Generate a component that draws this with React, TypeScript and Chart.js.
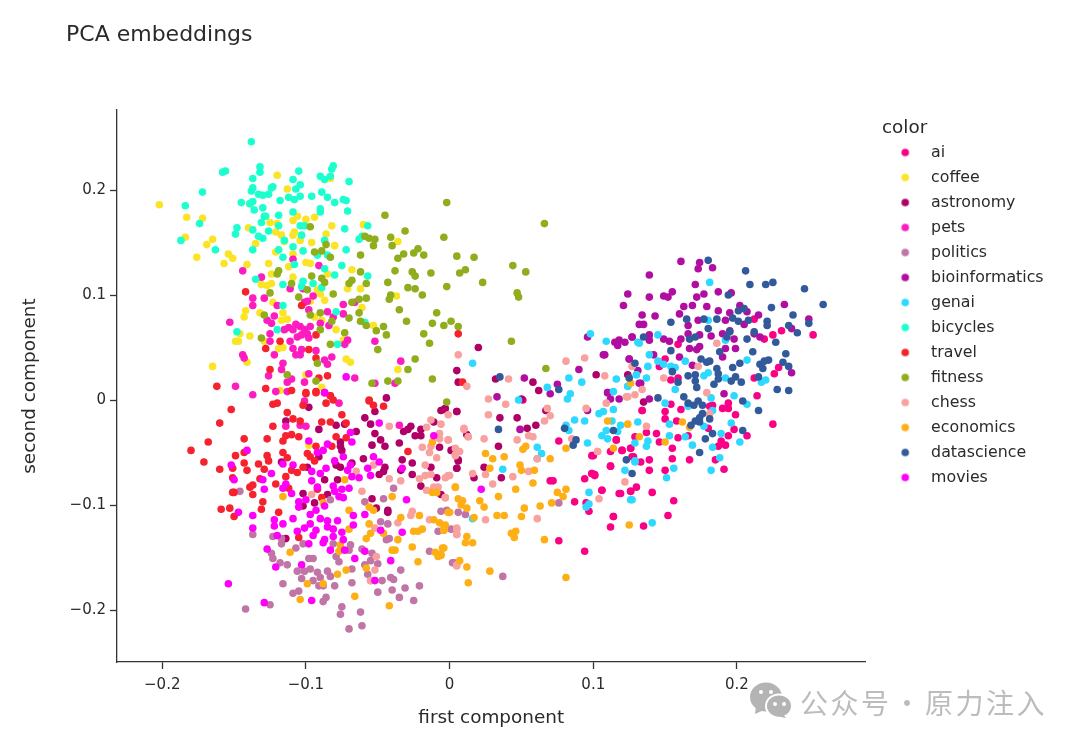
import { useEffect, useRef } from 'react';
import { Chart, registerables } from 'chart.js';

Chart.register(...registerables);

type Pt = [number, number];

const ai: Pt[] = [[0.253,0.062],[0.225,0.062],[0.219,0.058],[0.231,0.066],[0.212,0.077],[0.159,0.053],[0.150,0.039],[0.146,0.032],[0.226,0.025],[0.229,0.031],[0.212,0.021],[0.214,0.004],[0.225,-0.023],[0.199,-0.014],[0.194,-0.003],[0.190,-0.008],[0.194,-0.008],[0.134,-0.010],[0.150,-0.011],[0.154,-0.004],[0.161,-0.009],[0.150,-0.018],[0.158,-0.020],[0.144,-0.032],[0.137,-0.031],[0.129,-0.035],[0.116,-0.038],[0.146,-0.040],[0.159,-0.036],[0.166,-0.034],[0.180,-0.027],[0.198,-0.028],[0.194,-0.034],[0.207,-0.034],[0.189,-0.039],[0.187,-0.044],[0.192,-0.043],[0.155,-0.046],[0.126,-0.046],[0.120,-0.048],[0.112,-0.049],[0.100,-0.053],[0.139,-0.057],[0.133,-0.059],[0.127,-0.054],[0.155,-0.056],[0.167,-0.057],[0.185,-0.057],[0.191,-0.066],[0.112,-0.063],[0.139,-0.067],[0.150,-0.067],[0.099,-0.070],[0.101,-0.072],[0.106,-0.086],[0.130,-0.083],[0.126,-0.087],[0.118,-0.089],[0.141,-0.088],[0.156,-0.096],[0.114,-0.111],[0.152,-0.110],[0.112,-0.121],[0.135,-0.120],[0.181,-0.006],[0.183,-0.005],[0.159,0.021],[0.154,0.019],[0.076,-0.039],[0.099,-0.053],[0.120,-0.048],[0.126,-0.046],[0.112,-0.063],[0.094,-0.075],[0.099,-0.070],[0.101,-0.071],[0.070,-0.077],[0.072,-0.077],[0.106,-0.086],[0.119,-0.089],[0.087,-0.097],[0.097,-0.106],[0.114,-0.111],[0.076,-0.134],[0.094,-0.144],[0.128,-0.054],[0.126,-0.087],[0.095,-0.098],[0.116,-0.038],[0.051,0.000],[0.134,-0.010]];
const coffee: Pt[] = [[-0.202,0.186],[-0.183,0.174],[-0.172,0.173],[-0.184,0.155],[-0.165,0.153],[-0.169,0.148],[-0.176,0.136],[-0.154,0.139],[-0.151,0.135],[-0.157,0.130],[-0.141,0.129],[-0.120,0.214],[-0.113,0.201],[-0.083,0.211],[-0.139,0.187],[-0.125,0.169],[-0.120,0.168],[-0.109,0.171],[-0.106,0.175],[-0.100,0.172],[-0.094,0.174],[-0.082,0.166],[-0.060,0.167],[-0.140,0.164],[-0.121,0.160],[-0.117,0.157],[-0.108,0.160],[-0.109,0.157],[-0.086,0.158],[-0.115,0.151],[-0.104,0.152],[-0.096,0.150],[-0.080,0.147],[-0.135,0.149],[-0.036,0.151],[-0.121,0.141],[-0.109,0.139],[-0.126,0.130],[-0.112,0.127],[-0.100,0.131],[-0.097,0.130],[-0.068,0.124],[-0.124,0.120],[-0.109,0.117],[-0.085,0.120],[-0.131,0.110],[-0.127,0.109],[-0.124,0.111],[-0.071,0.106],[-0.062,0.106],[-0.092,0.105],[-0.090,0.101],[-0.037,0.099],[-0.123,0.093],[-0.087,0.095],[-0.097,0.094],[-0.061,0.088],[-0.142,0.085],[-0.143,0.079],[-0.132,0.083],[-0.116,0.083],[-0.117,0.076],[-0.113,0.077],[-0.094,0.079],[-0.089,0.076],[-0.146,0.063],[-0.139,0.061],[-0.149,0.056],[-0.147,0.056],[-0.079,0.067],[-0.053,0.071],[-0.129,0.056],[-0.119,0.049],[-0.116,0.050],[-0.074,0.057],[-0.165,0.032],[-0.141,0.036],[-0.072,0.039],[-0.069,0.036],[-0.036,0.029],[-0.100,0.024],[-0.089,0.012],[-0.118,0.009],[-0.098,-0.043]];
const astronomy: Pt[] = [[-0.044,0.002],[-0.052,-0.011],[-0.059,-0.017],[-0.055,-0.023],[-0.052,-0.032],[-0.048,-0.038],[-0.045,-0.044],[-0.054,-0.043],[-0.035,-0.041],[-0.060,-0.056],[-0.033,-0.057],[-0.026,-0.060],[-0.045,-0.064],[-0.046,-0.068],[-0.049,-0.071],[-0.034,-0.067],[-0.026,-0.071],[-0.020,-0.082],[-0.013,-0.064],[-0.007,-0.045],[0.005,-0.065],[0.006,-0.057],[0.001,-0.048],[0.005,-0.011],[-0.006,-0.010],[-0.003,-0.008],[-0.011,-0.021],[-0.027,-0.025],[-0.029,-0.028],[-0.032,-0.030],[-0.020,-0.028],[-0.024,-0.034],[-0.020,-0.034],[-0.098,-0.007],[-0.114,-0.020],[-0.079,-0.024],[-0.091,-0.028],[-0.073,-0.023],[-0.065,-0.030],[-0.076,-0.040],[-0.076,-0.044],[-0.075,-0.048],[-0.091,-0.054],[-0.117,-0.059],[-0.099,-0.064],[-0.079,-0.062],[-0.076,-0.064],[-0.068,-0.060],[-0.087,-0.076],[-0.078,-0.076],[-0.102,-0.089],[-0.085,-0.090],[-0.094,-0.098],[-0.102,-0.101],[-0.054,-0.094],[-0.051,-0.103],[-0.043,-0.105],[-0.043,-0.107],[-0.114,-0.132],[-0.009,-0.074],[-0.006,-0.090],[0.020,0.050],[0.005,0.028],[0.006,0.017],[0.032,0.020],[0.058,0.017],[0.062,0.009],[0.050,0.001],[-0.004,-0.009],[0.005,-0.011],[0.035,-0.017],[0.047,-0.017],[0.060,-0.024],[0.054,-0.027],[0.067,-0.010],[0.102,0.024],[0.006,-0.058],[0.005,-0.065],[0.034,-0.044],[0.024,-0.064],[0.036,-0.074],[0.017,-0.074],[0.003,-0.047],[0.012,-0.033],[0.124,0.024],[0.135,-0.002]];
const pets: Pt[] = [[-0.109,0.134],[-0.144,0.123],[-0.131,0.117],[-0.091,0.128],[-0.102,0.106],[-0.111,0.106],[-0.095,0.099],[-0.137,0.097],[-0.129,0.097],[-0.137,0.090],[-0.120,0.090],[-0.101,0.093],[-0.099,0.094],[-0.098,0.086],[-0.074,0.091],[-0.066,0.093],[-0.085,0.084],[-0.074,0.082],[-0.122,0.080],[-0.127,0.076],[-0.124,0.073],[-0.153,0.074],[-0.090,0.073],[-0.084,0.071],[-0.081,0.079],[-0.115,0.067],[-0.112,0.069],[-0.107,0.072],[-0.104,0.070],[-0.097,0.070],[-0.101,0.067],[-0.109,0.067],[-0.106,0.060],[-0.103,0.062],[-0.099,0.063],[-0.098,0.059],[-0.125,0.063],[-0.125,0.056],[-0.111,0.056],[-0.071,0.057],[-0.073,0.053],[-0.052,0.056],[-0.109,0.049],[-0.103,0.048],[-0.093,0.047],[-0.107,0.043],[-0.104,0.043],[-0.144,0.043],[-0.143,0.040],[-0.122,0.043],[-0.082,0.041],[-0.087,0.038],[-0.085,0.034],[-0.034,0.037],[-0.116,0.035],[-0.117,0.029],[-0.098,0.025],[-0.126,0.023],[-0.110,0.020],[-0.113,0.017],[-0.149,0.013],[-0.101,0.017],[-0.066,0.021],[-0.052,0.016],[-0.038,0.016],[-0.137,0.005],[-0.121,0.008],[-0.113,0.008],[-0.101,-0.001],[-0.114,-0.025],[-0.104,-0.024],[-0.100,-0.025],[-0.077,-0.003],[-0.035,-0.024]];
const politics: Pt[] = [[-0.146,-0.087],[-0.137,-0.128],[-0.123,-0.130],[-0.117,-0.132],[-0.117,-0.137],[-0.107,-0.141],[-0.102,-0.137],[-0.124,-0.146],[-0.123,-0.151],[-0.118,-0.155],[-0.113,-0.157],[-0.098,-0.151],[-0.095,-0.151],[-0.097,-0.161],[-0.106,-0.163],[-0.101,-0.163],[-0.103,-0.170],[-0.092,-0.164],[-0.085,-0.163],[-0.090,-0.169],[-0.083,-0.168],[-0.095,-0.172],[-0.091,-0.177],[-0.088,-0.177],[-0.080,-0.177],[-0.116,-0.175],[-0.105,-0.182],[-0.109,-0.184],[-0.068,-0.174],[-0.055,-0.172],[-0.047,-0.172],[-0.041,-0.169],[-0.039,-0.171],[-0.034,-0.162],[-0.031,-0.179],[-0.021,-0.177],[-0.040,-0.181],[-0.050,-0.183],[-0.035,-0.188],[-0.025,-0.191],[-0.086,-0.188],[-0.088,-0.192],[-0.125,-0.195],[-0.142,-0.199],[-0.075,-0.197],[-0.076,-0.204],[-0.062,-0.202],[-0.070,-0.218],[-0.061,-0.215],[-0.081,-0.137],[-0.069,-0.138],[-0.070,-0.143],[-0.079,-0.149],[-0.077,-0.154],[-0.068,-0.161],[-0.061,-0.142],[-0.054,-0.146],[-0.055,-0.153],[-0.050,-0.156],[-0.059,-0.157],[-0.057,-0.166],[-0.059,-0.097],[-0.046,-0.094],[-0.039,-0.084],[-0.083,-0.095],[-0.048,-0.116],[-0.043,-0.118],[-0.042,-0.132],[-0.044,-0.133],[-0.014,-0.144],[-0.006,-0.106],[-0.002,-0.105],[0.006,-0.107],[0.011,-0.109],[-0.008,-0.125],[0.001,-0.123],[0.003,-0.155],[0.076,-0.098],[0.037,-0.168],[0.002,-0.155]];
const bioinformatics: Pt[] = [[0.161,0.132],[0.174,0.131],[0.173,0.125],[0.183,0.126],[0.139,0.119],[0.171,0.110],[0.124,0.101],[0.121,0.090],[0.139,0.098],[0.149,0.099],[0.152,0.098],[0.155,0.103],[0.177,0.101],[0.172,0.098],[0.187,0.103],[0.196,0.102],[0.233,0.091],[0.134,0.081],[0.143,0.080],[0.163,0.089],[0.169,0.090],[0.179,0.089],[0.187,0.085],[0.160,0.082],[0.195,0.083],[0.202,0.090],[0.207,0.084],[0.215,0.081],[0.250,0.077],[0.132,0.072],[0.135,0.072],[0.166,0.071],[0.173,0.076],[0.192,0.076],[0.205,0.072],[0.127,0.060],[0.139,0.062],[0.139,0.057],[0.118,0.057],[0.115,0.055],[0.117,0.052],[0.149,0.058],[0.153,0.056],[0.161,0.058],[0.166,0.063],[0.174,0.062],[0.182,0.061],[0.190,0.063],[0.195,0.066],[0.198,0.058],[0.212,0.063],[0.216,0.060],[0.238,0.068],[0.167,0.049],[0.172,0.048],[0.174,0.051],[0.192,0.049],[0.199,0.049],[0.190,0.041],[0.108,0.043],[0.160,0.041],[0.125,0.039],[0.142,0.043],[0.169,0.033],[0.238,0.026],[0.131,0.028],[0.133,0.016],[0.191,0.006],[0.110,0.007],[0.112,0.001],[0.118,0.001],[0.139,0.001],[0.096,0.060],[0.122,0.055],[0.127,0.060],[0.107,0.043],[0.090,0.029],[0.125,0.039],[0.052,0.021],[0.033,0.003],[0.075,0.015],[0.070,0.006],[0.049,-0.028],[0.110,0.007],[0.132,0.016],[0.096,-0.010]];
const genai: Pt[] = [[0.016,0.035],[0.098,0.063],[0.109,0.056],[0.131,0.055],[0.083,0.021],[0.092,0.017],[0.068,0.012],[0.116,0.020],[0.084,0.006],[0.082,0.001],[0.114,0.008],[0.124,0.013],[0.130,0.024],[0.048,0.000],[0.104,-0.013],[0.107,-0.011],[0.114,-0.009],[0.087,-0.019],[0.094,-0.020],[0.081,-0.024],[0.083,-0.029],[0.113,-0.020],[0.131,-0.021],[0.119,-0.024],[0.109,-0.029],[0.106,-0.034],[0.110,-0.037],[0.117,-0.030],[0.096,-0.041],[0.061,-0.045],[0.064,-0.051],[0.061,-0.056],[0.037,-0.066],[0.129,-0.041],[0.129,-0.058],[0.122,-0.067],[0.097,-0.088],[0.126,-0.095],[0.097,-0.099],[0.095,-0.102],[0.016,-0.113],[0.181,0.112],[0.145,0.062],[0.132,0.054],[0.139,0.043],[0.145,0.037],[0.149,0.034],[0.138,0.032],[0.154,0.032],[0.157,0.031],[0.164,0.037],[0.207,0.038],[0.180,0.076],[0.192,0.057],[0.130,0.024],[0.137,0.021],[0.124,0.013],[0.157,0.010],[0.177,0.023],[0.180,0.026],[0.192,0.021],[0.217,0.017],[0.220,0.019],[0.198,0.004],[0.182,0.002],[0.166,-0.006],[0.150,-0.003],[0.207,-0.004],[0.183,-0.010],[0.153,-0.023],[0.177,-0.025],[0.196,-0.022],[0.153,-0.034],[0.164,-0.035],[0.138,-0.039],[0.137,-0.044],[0.189,-0.032],[0.202,-0.040],[0.169,-0.043],[0.183,-0.045],[0.188,-0.055],[0.129,-0.059],[0.156,-0.065],[0.182,-0.067],[0.151,-0.074],[0.127,-0.095],[0.141,-0.117]];
const bicycles: Pt[] = [[-0.138,0.246],[-0.132,0.222],[-0.132,0.217],[-0.156,0.218],[-0.158,0.217],[-0.137,0.211],[-0.105,0.218],[-0.081,0.223],[-0.082,0.220],[-0.083,0.213],[-0.090,0.213],[-0.087,0.210],[-0.070,0.208],[-0.109,0.210],[-0.104,0.205],[-0.107,0.201],[-0.123,0.203],[-0.124,0.202],[-0.137,0.202],[-0.138,0.199],[-0.172,0.198],[-0.184,0.185],[-0.133,0.196],[-0.130,0.195],[-0.126,0.196],[-0.112,0.193],[-0.108,0.191],[-0.104,0.194],[-0.096,0.194],[-0.089,0.198],[-0.085,0.193],[-0.080,0.188],[-0.074,0.191],[-0.072,0.190],[-0.145,0.188],[-0.137,0.189],[-0.139,0.187],[-0.118,0.190],[-0.136,0.181],[-0.130,0.183],[-0.109,0.179],[-0.090,0.182],[-0.090,0.179],[-0.071,0.180],[-0.129,0.175],[-0.128,0.175],[-0.119,0.176],[-0.131,0.169],[-0.174,0.168],[-0.148,0.164],[-0.149,0.158],[-0.137,0.162],[-0.126,0.161],[-0.119,0.166],[-0.104,0.166],[-0.101,0.166],[-0.073,0.163],[-0.057,0.166],[-0.103,0.157],[-0.133,0.156],[-0.130,0.154],[-0.115,0.152],[-0.087,0.152],[-0.063,0.153],[-0.061,0.156],[-0.137,0.143],[-0.119,0.143],[-0.109,0.146],[-0.102,0.142],[-0.072,0.143],[-0.187,0.152],[-0.163,0.143],[-0.116,0.136],[-0.092,0.138],[-0.085,0.138],[-0.108,0.129],[-0.087,0.125],[-0.075,0.128],[-0.080,0.119],[-0.057,0.118],[-0.135,0.115],[-0.116,0.110],[-0.102,0.113],[-0.103,0.108],[-0.095,0.111],[-0.089,0.107],[-0.116,0.090],[-0.079,0.084],[-0.120,0.067],[-0.148,0.065],[-0.078,0.053],[-0.059,0.074]];
const travel: Pt[] = [[-0.142,0.103],[-0.103,0.090],[-0.093,0.062],[-0.118,0.056],[-0.128,0.049],[-0.098,0.048],[-0.093,0.040],[-0.125,0.029],[-0.091,0.021],[-0.085,0.023],[-0.162,0.013],[-0.128,0.011],[-0.110,0.009],[-0.100,0.007],[-0.093,0.008],[-0.083,0.004],[-0.056,0.000],[-0.152,-0.009],[-0.160,-0.022],[-0.168,-0.040],[-0.180,-0.048],[-0.171,-0.059],[-0.160,-0.066],[-0.143,-0.037],[-0.149,-0.053],[-0.143,-0.050],[-0.127,-0.037],[-0.123,-0.025],[-0.123,-0.004],[-0.120,-0.003],[-0.113,-0.012],[-0.109,-0.018],[-0.104,-0.020],[-0.102,-0.005],[-0.100,0.006],[-0.093,0.007],[-0.086,-0.003],[-0.083,0.004],[-0.081,0.000],[-0.056,-0.001],[-0.053,-0.005],[-0.046,-0.006],[-0.075,-0.014],[-0.072,-0.022],[-0.083,-0.021],[-0.089,-0.021],[-0.079,-0.035],[-0.072,-0.036],[-0.114,-0.034],[-0.110,-0.033],[-0.116,-0.039],[-0.105,-0.035],[-0.093,-0.044],[-0.116,-0.050],[-0.113,-0.055],[-0.099,-0.051],[-0.097,-0.054],[-0.094,-0.058],[-0.082,-0.044],[-0.127,-0.053],[-0.126,-0.058],[-0.133,-0.061],[-0.143,-0.060],[-0.141,-0.067],[-0.151,-0.065],[-0.129,-0.066],[-0.110,-0.067],[-0.106,-0.069],[-0.102,-0.064],[-0.114,-0.073],[-0.151,-0.074],[-0.132,-0.075],[-0.137,-0.081],[-0.139,-0.083],[-0.121,-0.080],[-0.151,-0.088],[-0.150,-0.088],[-0.137,-0.090],[-0.112,-0.084],[-0.130,-0.097],[-0.131,-0.104],[-0.159,-0.104],[-0.153,-0.103],[-0.150,-0.111],[-0.119,-0.107],[-0.092,-0.085],[-0.089,-0.093],[-0.105,-0.131],[-0.029,-0.049],[0.009,0.017],[0.006,0.063]];
const fitness: Pt[] = [[-0.045,0.176],[-0.002,0.188],[-0.031,0.161],[-0.097,0.165],[-0.004,0.155],[-0.059,0.156],[-0.056,0.154],[-0.052,0.153],[-0.053,0.147],[-0.041,0.155],[-0.040,0.147],[-0.086,0.148],[-0.089,0.142],[-0.094,0.141],[-0.083,0.136],[-0.062,0.138],[-0.022,0.144],[-0.025,0.140],[-0.018,0.138],[-0.032,0.139],[-0.036,0.135],[-0.038,0.123],[-0.062,0.122],[-0.026,0.122],[-0.024,0.118],[-0.013,0.121],[-0.119,0.123],[-0.120,0.120],[-0.096,0.118],[-0.089,0.116],[-0.087,0.112],[-0.068,0.114],[-0.070,0.111],[-0.058,0.111],[-0.043,0.112],[-0.110,0.111],[-0.002,0.108],[-0.029,0.107],[-0.024,0.106],[-0.125,0.102],[-0.099,0.105],[-0.105,0.098],[-0.081,0.101],[-0.019,0.100],[-0.041,0.100],[-0.042,0.096],[-0.058,0.097],[-0.063,0.096],[-0.068,0.093],[-0.035,0.086],[-0.009,0.083],[-0.063,0.083],[-0.129,0.081],[-0.097,0.081],[-0.090,0.083],[-0.070,0.078],[-0.082,0.075],[-0.062,0.075],[-0.058,0.071],[-0.046,0.070],[-0.051,0.066],[-0.030,0.075],[-0.012,0.073],[-0.090,0.067],[-0.018,0.063],[-0.044,0.062],[-0.073,0.064],[-0.131,0.059],[-0.083,0.053],[-0.014,0.054],[-0.050,0.048],[-0.024,0.039],[-0.092,0.035],[-0.029,0.029],[-0.113,0.024],[-0.093,0.018],[-0.054,0.016],[-0.043,0.018],[-0.036,0.018],[-0.012,0.020],[0.043,0.056],[0.067,0.030],[-0.002,-0.002],[0.066,0.168],[0.005,0.137],[0.017,0.136],[0.007,0.121],[0.011,0.124],[0.023,0.112],[0.044,0.128],[0.053,0.122],[0.047,0.102],[0.048,0.098],[0.001,0.075],[0.006,0.070],[-0.004,0.071]];
const chess: Pt[] = [[-0.042,-0.025],[-0.013,-0.019],[-0.006,-0.023],[-0.016,-0.026],[-0.007,-0.032],[-0.007,-0.037],[-0.001,-0.038],[0.010,-0.028],[-0.019,-0.045],[-0.014,-0.050],[-0.013,-0.044],[0.004,-0.046],[0.007,-0.049],[0.004,-0.053],[-0.009,-0.055],[-0.017,-0.062],[-0.053,-0.062],[-0.065,-0.068],[-0.042,-0.075],[-0.034,-0.077],[-0.021,-0.075],[-0.017,-0.072],[-0.013,-0.071],[-0.003,-0.074],[0.000,-0.072],[-0.061,-0.087],[-0.016,-0.086],[-0.011,-0.083],[-0.008,-0.083],[-0.003,-0.093],[-0.096,-0.090],[-0.026,-0.106],[-0.027,-0.110],[-0.014,-0.114],[-0.036,-0.117],[-0.052,-0.122],[-0.051,-0.149],[-0.052,-0.162],[-0.055,-0.172],[0.005,-0.122],[0.005,-0.128],[0.005,-0.158],[0.013,-0.035],[0.006,0.043],[0.012,0.013],[0.041,0.020],[0.081,0.037],[0.094,0.040],[0.108,0.023],[0.027,0.001],[0.039,-0.004],[-0.001,-0.014],[0.027,-0.014],[0.010,-0.027],[0.013,-0.035],[0.024,-0.037],[-0.001,-0.038],[0.047,-0.038],[0.055,-0.034],[0.058,-0.035],[0.066,-0.020],[0.070,-0.015],[0.068,-0.008],[0.095,-0.008],[0.085,-0.037],[0.103,-0.049],[0.061,-0.056],[0.006,-0.049],[0.004,-0.052],[0.025,-0.071],[0.016,-0.070],[0.044,-0.073],[0.055,-0.068],[-0.001,-0.072],[0.030,-0.080],[-0.003,-0.093],[0.025,-0.114],[0.061,-0.113],[0.005,-0.123],[0.005,-0.128],[0.005,-0.157],[0.122,-0.078],[0.104,-0.094],[0.109,-0.003],[0.124,0.003],[0.129,0.005],[0.127,0.032],[0.186,0.054],[0.173,0.032],[0.149,0.021],[0.134,0.010],[0.123,0.003],[0.179,0.007],[0.137,-0.025],[0.181,-0.013],[0.103,-0.049]];
const economics: Pt[] = [[0.025,-0.051],[0.030,-0.056],[0.038,-0.054],[0.028,-0.065],[0.049,-0.062],[0.050,-0.067],[0.059,-0.067],[0.051,-0.047],[0.053,-0.044],[0.070,-0.056],[0.081,-0.046],[0.058,-0.079],[0.046,-0.085],[0.034,-0.092],[0.004,-0.083],[0.006,-0.094],[0.009,-0.096],[0.008,-0.100],[0.012,-0.103],[0.021,-0.096],[0.024,-0.102],[0.033,-0.110],[0.038,-0.110],[0.017,-0.112],[-0.001,-0.107],[0.052,-0.103],[0.050,-0.111],[0.063,-0.101],[0.071,-0.098],[0.075,-0.088],[0.079,-0.092],[0.081,-0.085],[-0.004,-0.124],[-0.004,-0.120],[0.012,-0.130],[0.011,-0.136],[0.016,-0.136],[0.046,-0.125],[0.043,-0.127],[0.045,-0.131],[0.066,-0.133],[-0.005,-0.141],[-0.006,-0.148],[0.007,-0.153],[0.012,-0.159],[0.028,-0.163],[0.013,-0.174],[0.081,-0.169],[0.125,-0.119],[0.110,-0.020],[0.124,-0.023],[0.126,0.016],[0.114,-0.046],[0.132,-0.035],[0.150,-0.040],[0.162,-0.021],[0.167,-0.026],[-0.073,-0.076],[-0.116,-0.092],[-0.088,-0.098],[-0.070,-0.105],[-0.056,-0.102],[-0.053,-0.105],[-0.056,-0.118],[-0.070,-0.123],[-0.055,-0.127],[-0.058,-0.132],[-0.046,-0.127],[-0.034,-0.112],[-0.021,-0.110],[-0.036,-0.133],[-0.011,-0.114],[-0.007,-0.117],[-0.003,-0.119],[-0.004,-0.124],[0.000,-0.107],[-0.012,-0.040],[0.004,-0.083],[-0.012,-0.088],[-0.009,-0.088],[-0.040,-0.092],[-0.025,-0.125],[-0.022,-0.125],[-0.019,-0.123],[-0.026,-0.140],[-0.004,-0.141],[-0.010,-0.145],[-0.006,-0.147],[-0.008,-0.149],[-0.022,-0.154],[-0.040,-0.143],[-0.038,-0.143],[-0.111,-0.145],[-0.076,-0.138],[-0.077,-0.144],[-0.058,-0.160],[-0.072,-0.162],[-0.078,-0.166],[-0.099,-0.175],[-0.088,-0.175],[-0.104,-0.190],[-0.066,-0.187],[-0.042,-0.196]];
const datascience: Pt[] = [[0.180,0.133],[0.206,0.123],[0.209,0.110],[0.220,0.110],[0.225,0.112],[0.247,0.106],[0.260,0.091],[0.194,0.100],[0.224,0.088],[0.239,0.081],[0.205,0.087],[0.201,0.085],[0.197,0.078],[0.201,0.075],[0.208,0.076],[0.221,0.075],[0.221,0.071],[0.236,0.071],[0.250,0.073],[0.242,0.064],[0.154,0.074],[0.165,0.077],[0.177,0.077],[0.186,0.077],[0.180,0.068],[0.212,0.065],[0.195,0.065],[0.193,0.060],[0.207,0.058],[0.227,0.055],[0.135,0.060],[0.167,0.058],[0.171,0.060],[0.154,0.047],[0.188,0.046],[0.211,0.046],[0.234,0.044],[0.175,0.039],[0.179,0.036],[0.181,0.037],[0.222,0.038],[0.219,0.037],[0.216,0.034],[0.129,0.035],[0.202,0.035],[0.197,0.031],[0.186,0.030],[0.232,0.036],[0.236,0.032],[0.218,0.030],[0.155,0.027],[0.166,0.023],[0.171,0.024],[0.187,0.025],[0.187,0.020],[0.199,0.022],[0.196,0.018],[0.203,0.017],[0.215,0.022],[0.125,0.021],[0.171,0.018],[0.159,0.017],[0.172,0.012],[0.184,0.015],[0.228,0.010],[0.236,0.009],[0.163,0.003],[0.145,0.002],[0.204,-0.001],[0.173,-0.001],[0.166,-0.003],[0.170,-0.005],[0.176,-0.005],[0.215,-0.010],[0.176,-0.013],[0.174,-0.017],[0.181,-0.018],[0.171,-0.020],[0.174,-0.021],[0.168,-0.024],[0.114,-0.029],[0.204,-0.029],[0.183,-0.032],[0.178,-0.037],[0.174,-0.050],[0.123,-0.057],[0.127,-0.070],[0.035,0.022],[0.076,0.010],[0.034,-0.028],[0.080,-0.027],[0.088,-0.038],[0.086,-0.043]];
const movies: Pt[] = [[-0.087,0.007],[-0.141,-0.048],[-0.152,-0.062],[-0.150,-0.076],[-0.130,-0.076],[-0.129,-0.085],[-0.124,-0.070],[-0.116,-0.061],[-0.109,-0.062],[-0.114,-0.080],[-0.116,-0.084],[-0.110,-0.089],[-0.098,-0.039],[-0.092,-0.050],[-0.088,-0.048],[-0.085,-0.042],[-0.069,-0.031],[-0.068,-0.040],[-0.049,-0.022],[-0.011,-0.034],[-0.074,-0.054],[-0.080,-0.058],[-0.053,-0.054],[-0.049,-0.059],[-0.057,-0.065],[-0.055,-0.072],[-0.063,-0.074],[-0.068,-0.073],[-0.071,-0.067],[-0.069,-0.062],[-0.033,-0.065],[-0.086,-0.065],[-0.090,-0.070],[-0.096,-0.068],[-0.096,-0.077],[-0.092,-0.083],[-0.081,-0.082],[-0.075,-0.085],[-0.070,-0.084],[-0.080,-0.087],[-0.077,-0.092],[-0.074,-0.093],[-0.105,-0.097],[-0.100,-0.095],[-0.105,-0.102],[-0.087,-0.101],[-0.030,-0.095],[-0.147,-0.107],[-0.137,-0.110],[-0.122,-0.114],[-0.109,-0.113],[-0.097,-0.109],[-0.093,-0.105],[-0.090,-0.113],[-0.085,-0.115],[-0.078,-0.115],[-0.067,-0.110],[-0.059,-0.109],[-0.067,-0.119],[-0.097,-0.118],[-0.101,-0.122],[-0.106,-0.125],[-0.116,-0.118],[-0.122,-0.120],[-0.120,-0.129],[-0.137,-0.122],[-0.093,-0.124],[-0.095,-0.129],[-0.085,-0.121],[-0.081,-0.123],[-0.075,-0.126],[-0.081,-0.130],[-0.074,-0.133],[-0.048,-0.124],[-0.087,-0.133],[-0.088,-0.136],[-0.098,-0.137],[-0.127,-0.142],[-0.083,-0.143],[-0.073,-0.143],[-0.059,-0.144],[-0.066,-0.151],[-0.041,-0.153],[-0.103,-0.157],[-0.121,-0.159],[-0.052,-0.172],[-0.154,-0.175],[-0.096,-0.191],[-0.129,-0.193],[-0.033,-0.126],[0.022,-0.085],[-0.072,0.022],[-0.087,0.007]];

const categories = ['ai', 'coffee', 'astronomy', 'pets', 'politics', 'bioinformatics', 'genai', 'bicycles', 'travel', 'fitness', 'chess', 'economics', 'datascience', 'movies'];
const seriesValues = [ai, coffee, astronomy, pets, politics, bioinformatics, genai, bicycles, travel, fitness, chess, economics, datascience, movies];
const colors = ['#FA0087', '#FBE426', '#B00068', '#FC1CBF', '#C075A6', '#B10DA1', '#2ED9FF', '#1CFFCE', '#F6222E', '#90AD1C', '#F8A19F', '#FEAF16', '#325A9B', '#FE00FA'];
const tickValues = [-0.2, -0.1, 0, 0.1, 0.2];

const textColor = '#2a2a2a';
const axisColor = '#333';
const fontFamily = '"DejaVu Sans", sans-serif';

const formatTick = (v: number) => {
  if (v === 0) return '0';
  return (v < 0 ? '\u2212' : '') + Math.abs(v).toFixed(1);
};

// legend dots are small canvases so the gap to the text can be set freely
function legendDot(color: string) {
  const c = document.createElement('canvas');
  c.width = 14;
  c.height = 10;
  const ctx = c.getContext('2d')!;
  ctx.fillStyle = color;
  ctx.beginPath();
  ctx.arc(5, 5, 3.8, 0, Math.PI * 2);
  ctx.fill();
  return c;
}

// the title sits left of the plot, the legend is moved down beside it, and the corner has the watermark
const pagePlugin = {
  id: 'page',
  afterLayout(chart: any) {
    chart.titleBlock.left = 66;
    const legend = chart.legend;
    const w = legend.right - legend.left;
    legend.left = 882;
    legend.right = 882 + w;
    legend.top = 119;
    legend.bottom = 700;
  },
  afterDraw(chart: any) {
    const ctx = chart.ctx;
    ctx.save();
    ctx.fillStyle = '#b4b4b4';
    ctx.beginPath();
    ctx.ellipse(766, 697, 16, 14.5, 0, 0, Math.PI * 2);
    ctx.fill();
    ctx.beginPath();
    ctx.moveTo(756, 706);
    ctx.lineTo(755, 714);
    ctx.lineTo(764, 710);
    ctx.fill();
    ctx.strokeStyle = '#fff';
    ctx.lineWidth = 2;
    ctx.beginPath();
    ctx.ellipse(779, 706, 13, 11.5, 0, 0, Math.PI * 2);
    ctx.fill();
    ctx.stroke();
    ctx.beginPath();
    ctx.moveTo(783, 714);
    ctx.lineTo(786, 718);
    ctx.lineTo(776, 716);
    ctx.fill();
    ctx.fillStyle = '#fff';
    [[761, 692], [771, 692], [775, 704], [784, 704]].forEach(([x, y]) => {
      ctx.beginPath();
      ctx.arc(x, y, 2, 0, Math.PI * 2);
      ctx.fill();
    });
    ctx.fillStyle = '#bcbcbc';
    ctx.font = '28px "Noto Sans CJK SC"';
    ctx.letterSpacing = '2.5px';
    ctx.textAlign = 'left';
    ctx.textBaseline = 'alphabetic';
    ctx.fillText('公众号', 800, 714);
    ctx.fillText('·', 893, 714);
    ctx.fillText('原力注入', 925, 714);
    ctx.restore();
  },
};

const axisOptions = (label: string, min: number, max: number, titlePadding: any, tickPadding: number) => ({
  type: 'linear' as const,
  min,
  max,
  afterBuildTicks: (scale: any) => {
    scale.ticks = tickValues.map((value) => ({ value }));
  },
  grid: { display: true, drawOnChartArea: false, drawTicks: true, tickLength: 7, tickColor: axisColor, tickWidth: 1.3 },
  border: { display: true, color: axisColor, width: 1.3 },
  ticks: {
    color: textColor,
    font: { family: fontFamily, size: 15 },
    padding: tickPadding,
    maxRotation: 0,
    autoSkip: false,
    callback: (v: any) => formatTick(Number(v)),
  },
  title: { display: true, text: label, color: textColor, font: { family: fontFamily, size: 18.4 }, padding: titlePadding },
});

export default function App() {
  const chartRef = useRef<HTMLCanvasElement>(null);

  useEffect(() => {
    if (!chartRef.current) return;
    const chart = new Chart(chartRef.current, {
      type: 'scatter',
      data: {
        datasets: categories.map((name, i) => ({
          label: name,
          data: seriesValues[i].map(([x, y]) => ({ x, y })),
          backgroundColor: colors[i],
          borderWidth: 0,
          pointRadius: 3.8,
          // plotly paints later traces on top
          order: categories.length - i,
        })),
      },
      options: {
        responsive: false,
        animation: false,
        layout: { padding: { top: 0, right: 43, bottom: 0, left: 0 } },
        scales: {
          x: { ...axisOptions('first component', -0.2315, 0.2894, { top: 0, bottom: 17 }, 7), afterFit: (s: any) => { s.height = 84; } },
          y: { ...axisOptions('second component', -0.2495, 0.2762, { top: 19, bottom: 0 }, 4), afterFit: (s: any) => { s.width = 117; } },
        },
        plugins: {
          tooltip: { enabled: false },
          title: {
            display: true,
            text: 'PCA embeddings',
            align: 'start',
            color: textColor,
            font: { family: fontFamily, size: 22, weight: 'normal' },
            padding: { top: 22, bottom: 61.6 },
          },
          legend: {
            position: 'right',
            align: 'start',
            title: { display: true, position: 'start', text: 'color', color: textColor, font: { family: fontFamily, size: 18.4 }, padding: { top: 0, bottom: -5.7 } },
            labels: {
              color: textColor,
              font: { family: fontFamily, size: 15.8 },
              usePointStyle: true,
              pointStyleWidth: 32,
              padding: 9.2,
              generateLabels: () => categories.map((name, i) => ({
                text: name,
                fillStyle: colors[i],
                strokeStyle: colors[i],
                lineWidth: 0,
                pointStyle: legendDot(colors[i]) as any,
                hidden: false,
                datasetIndex: i,
              })),
            },
          },
        },
      },
      plugins: [pagePlugin],
    } as any);
    return () => chart.destroy();
  }, []);

  return (
    <div style={{ position: 'absolute', left: 0, top: 0, width: 1080, height: 746, background: '#fff' }}>
      <canvas ref={chartRef} width={1080} height={746} style={{ display: 'block' }} />
    </div>
  );
}
